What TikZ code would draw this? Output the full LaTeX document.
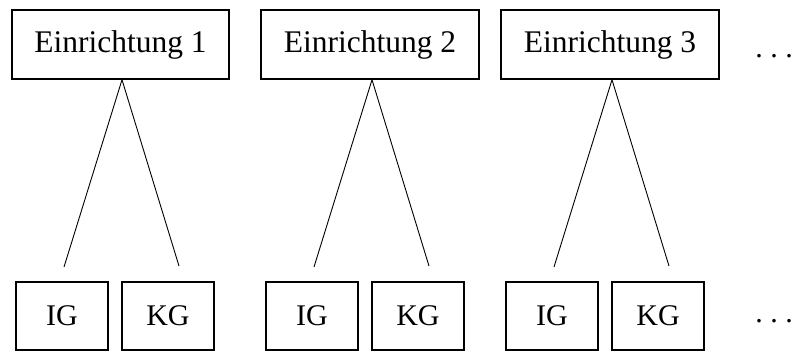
\documentclass[tikz,border=0pt]{standalone}
\usepackage{fontspec}
\setmainfont{Liberation Serif}
\begin{document}
\begin{tikzpicture}[x=1pt,y=-1pt,
  topbox/.style={draw, line width=1.5pt, inner sep=0pt, minimum height=69pt, font=\fontsize{31.5}{36}\selectfont},
  botbox/.style={draw, line width=1.5pt, inner sep=0pt, minimum width=92pt, minimum height=68pt, font=\fontsize{30}{34}\selectfont},
  dotsnode/.style={inner sep=0pt, font=\fontsize{30}{34}\selectfont},
  conn/.style={line width=0.9pt}]
\useasboundingbox (0,0) rectangle (795,351);
\node[topbox, minimum width=217pt] (e1) at (120.5,44.5) {Einrichtung 1};
\node[topbox, minimum width=218pt] (e2) at (370,44.5) {Einrichtung 2};
\node[topbox, minimum width=218pt] (e3) at (610,44.5) {Einrichtung 3};
\node[dotsnode, anchor=base] (d1) at (774,57) {.\ .\ .};
\node[botbox] (ig1) at (62,316) {IG};
\node[botbox] (kg1) at (168,316) {KG};
\node[botbox] (ig2) at (312,316) {IG};
\node[botbox] (kg2) at (418,316) {KG};
\node[botbox] (ig3) at (552,316) {IG};
\node[botbox] (kg3) at (658,316) {KG};
\node[dotsnode, anchor=base] (d2) at (774,322) {.\ .\ .};
\coordinate (a1) at (64,267);
\coordinate (b1) at (179,266);
\coordinate (a2) at (314,267);
\coordinate (b2) at (429,266);
\coordinate (a3) at (554,267);
\coordinate (b3) at (669,266);
\draw[conn] (a1) -- ([xshift=1.5pt]e1.south) -- (b1);
\draw[conn] (a2) -- ([xshift=2pt]e2.south) -- (b2);
\draw[conn] (a3) -- ([xshift=2pt]e3.south) -- (b3);
\end{tikzpicture}
\end{document}
